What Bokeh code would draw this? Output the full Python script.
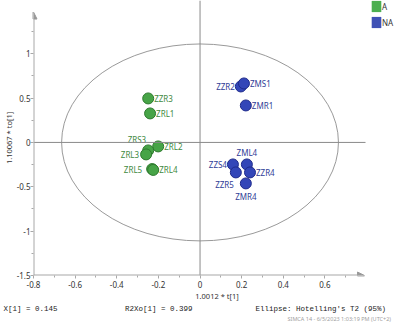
from bokeh.plotting import figure
from bokeh.models import (ColumnDataSource, Range1d, FixedTicker, Span, Arrow, Title,
                          NormalHead, Legend, LegendItem)
from bokeh.core.properties import value
from bokeh.embed import file_html
from bokeh.resources import INLINE

# ---------------- data ----------------
green_names = ["ZZR3", "ZRL1", "ZRL2", "ZRS3", "ZRL3", "ZRL5", "ZRL4"]
green_t = [-0.249, -0.240, -0.201, -0.249, -0.259, -0.230, -0.225]
green_to = [0.496, 0.327, -0.045, -0.090, -0.135, -0.300, -0.310]

blue_names = ["ZZR2", "ZMS1", "ZMR1", "ZZS4", "ZZR5", "ZML4", "ZZR4", "ZMR4"]
blue_t = [0.196, 0.211, 0.220, 0.158, 0.172, 0.225, 0.240, 0.220]
blue_to = [0.631, 0.665, 0.417, -0.248, -0.338, -0.248, -0.338, -0.462]

ellipse_a = 0.665   # Hotelling's T2 (95%) semi-axis, t[1]
ellipse_b = 1.11    # semi-axis, to[1]

x_ticks = [-0.8, -0.6, -0.4, -0.2, 0.0, 0.2, 0.4, 0.6]
x_tick_labels = ["-0.8", "-0.6", "-0.4", "-0.2", "0", "0.2", "0.4", "0.6"]
x_minor = [-0.7, -0.5, -0.3, -0.1, 0.1, 0.3, 0.5, 0.7]
y_ticks = [-1.5, -1.0, -0.5, 0.0, 0.5, 1.0]
y_tick_labels = ["-1.5", "-1", "-0.5", "0", "0.5", "1"]
y_minor = [-1.25, -0.75, -0.25, 0.25, 0.75, 1.25]

legend_labels = ["A", "NA"]
x_title = "1.0012 * t[1]"
y_title = "1.10067 * to[1]"
stats = ["X[1] = 0.145", "R2Xo[1] = 0.399", "Ellipse: Hotelling's T2 (95%)"]
footer = "SIMCA 14 - 6/5/2023 1:03:19 PM (UTC+2)"

# ---------------- styles ----------------
GREEN_FILL, GREEN_LINE, GREEN_TEXT = "#47a447", "#2e7a2e", "#3f8a3f"
BLUE_FILL, BLUE_LINE, BLUE_TEXT = "#3346b8", "#1f2b8c", "#2f3c96"
AX = "#a8a8a8"
FONT = "Noto Sans"
FONT_V = value(FONT)
NB = "\u00a0"

R, L = (6, 0, "left"), (-6, 0, "right")
green_place = [R, R, R, (-2, -11, "right"), (-7, 0, "right"), (-10, 0, "right"), R]
blue_place = [L, R, R, L, (-2, 12, "right"), (0, -12, "center"), R, (0, 13, "center")]

p = figure(width=400, height=325, output_backend="svg", toolbar_location=None,
           x_range=Range1d(-0.8, 0.963), y_range=Range1d(-1.5, 1.6),
           min_border_left=32, min_border_right=0, min_border_top=0, min_border_bottom=50)
p.outline_line_color = None
p.grid.visible = False

for ax, ticks, minor, labels in [(p.xaxis, x_ticks, x_minor, x_tick_labels),
                                 (p.yaxis, y_ticks, y_minor, y_tick_labels)]:
    ax.ticker = FixedTicker(ticks=ticks, minor_ticks=minor)
    ax.major_label_overrides = {t: l for t, l in zip(ticks, labels)}
    ax.axis_line_color = None
    ax.major_tick_line_color = AX
    ax.minor_tick_line_color = AX
    ax.major_tick_out = 3
    ax.major_tick_in = 0
    ax.minor_tick_out = 2
    ax.minor_tick_in = 0
    ax.major_label_text_font = FONT
    ax.major_label_text_font_size = "8px"
    ax.major_label_text_color = "#333333"
    ax.axis_label_text_font = FONT
    ax.axis_label_text_font_style = "normal"
    ax.axis_label_text_color = "#333333"
    ax.axis_label_standoff = 0

p.xaxis.major_label_standoff = 2
p.xaxis.axis_label_text_font_size = "7.5px"
p.yaxis.major_label_standoff = 0
p.yaxis.axis_label_text_font_size = "7.5px"
p.xaxis.axis_label = x_title
p.yaxis.axis_label = y_title

# footer rows as titles in the bottom panel (not clipped)
row1 = stats[0] + NB * 15 + stats[1] + NB * 14 + stats[2]
p.add_layout(Title(text=row1, align="left", offset=-30, standoff=0, vertical_align="middle",
                   text_font="Liberation Mono", text_font_size="7.5px", text_line_height=0.6,
                   text_font_style="normal", text_color="#222222"), "below")
p.add_layout(Title(text=footer, align="left", offset=254, standoff=0, vertical_align="middle",
                   text_font=FONT, text_font_size="5.5px", text_line_height=0.6,
                   text_font_style="normal", text_color="#a0a0a0"), "below")

# reference lines
p.add_layout(Span(location=0, dimension="height", line_color="#8a8a8a", line_width=1))
p.add_layout(Arrow(end=None, x_start=-0.8, y_start=0, x_end=0.795, y_end=0,
                   line_color="#8a8a8a", line_width=1))

# ellipse
p.ellipse(x=[0], y=[0], width=[2 * ellipse_a], height=[2 * ellipse_b],
          fill_color=None, line_color="#9a9a9a", line_width=1)

# axes with arrows
p.add_layout(Arrow(end=NormalHead(size=7, fill_color="#999999", line_color="#999999"),
                   x_start=-0.8, y_start=-1.5, x_end=-0.8, y_end=1.47,
                   line_color=AX, line_width=2))
p.add_layout(Arrow(end=NormalHead(size=7, fill_color="#999999", line_color="#999999"),
                   x_start=-0.8, y_start=-1.5, x_end=0.79, y_end=-1.5,
                   line_color=AX, line_width=2))

def group(names, xs, ys, place, fill, line, tcol):
    src = ColumnDataSource(dict(x=xs, y=ys, name=names,
                                dx=[q[0] for q in place], dy=[q[1] for q in place],
                                al=[q[2] for q in place]))
    p.scatter(x="x", y="y", source=src, size=11, marker="circle",
              fill_color=fill, line_color=line, line_width=1)
    p.text(x="x", y="y", text="name", source=src, x_offset="dx", y_offset="dy",
           text_align="al", text_baseline="middle", text_font=FONT_V,
           text_font_size="8px", text_color=tcol)
    # zero-area renderer, only used to give the legend a square swatch
    return p.quad(left=xs, right=xs, top=ys, bottom=ys, fill_color=fill, line_color=None)

ra = group(green_names, green_t, green_to, green_place, GREEN_FILL, GREEN_LINE, GREEN_TEXT)
rb = group(blue_names, blue_t, blue_to, blue_place, BLUE_FILL, BLUE_LINE, BLUE_TEXT)
ra.glyph.fill_color = "#4caf50"
rb.glyph.fill_color = "#3f51b5"

leg = Legend(items=[LegendItem(label=legend_labels[0], renderers=[ra]),
                    LegendItem(label=legend_labels[1], renderers=[rb])],
             location=(337, 246), glyph_width=12, glyph_height=14, label_height=14,
             spacing=2, padding=0, margin=0, label_standoff=0,
             label_text_font=FONT, label_text_font_size="8px", label_text_color="#333333",
             background_fill_alpha=0, border_line_color=None)
p.add_layout(leg)

open("out.html", "w").write(file_html(p, INLINE))
